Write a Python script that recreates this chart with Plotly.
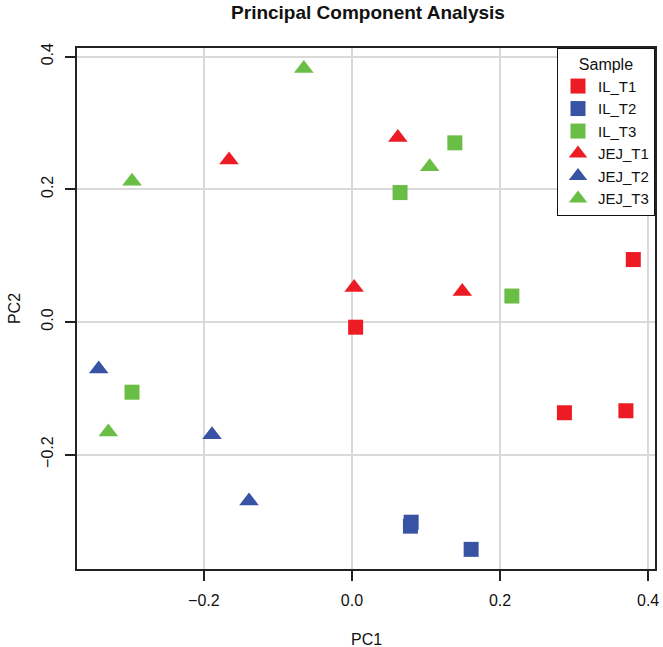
import plotly.graph_objects as go

groups = ["IL_T1", "IL_T2", "IL_T3", "JEJ_T1", "JEJ_T2", "JEJ_T3"]
colors = ["#ED1C24", "#3953A4", "#6ABD45", "#ED1C24", "#3953A4", "#6ABD45"]
symbols = ["square", "square", "square", "triangle-up", "triangle-up", "triangle-up"]

il_t1_pc1 = [0.005, 0.380, 0.287, 0.370]
il_t1_pc2 = [-0.008, 0.094, -0.137, -0.134]
il_t2_pc1 = [0.080, 0.079, 0.161]
il_t2_pc2 = [-0.302, -0.308, -0.343]
il_t3_pc1 = [0.139, 0.065, 0.216, -0.297]
il_t3_pc2 = [0.270, 0.195, 0.039, -0.106]
jej_t1_pc1 = [-0.166, 0.062, 0.003, 0.149]
jej_t1_pc2 = [0.244, 0.278, 0.052, 0.046]
jej_t2_pc1 = [-0.342, -0.189, -0.139]
jej_t2_pc2 = [-0.071, -0.170, -0.270]
jej_t3_pc1 = [-0.297, -0.065, 0.105, -0.329]
jej_t3_pc2 = [0.212, 0.382, 0.234, -0.166]

xs = [il_t1_pc1, il_t2_pc1, il_t3_pc1, jej_t1_pc1, jej_t2_pc1, jej_t3_pc1]
ys = [il_t1_pc2, il_t2_pc2, il_t3_pc2, jej_t1_pc2, jej_t2_pc2, jej_t3_pc2]

x_ticks = [-0.2, 0.0, 0.2, 0.4]
x_ticklabels = ["\u22120.2", "0.0", "0.2", "0.4"]
y_ticks = [-0.2, 0.0, 0.2, 0.4]
y_ticklabels = ["\u22120.2", "0.0", "0.2", "0.4"]

FONT = "Liberation Sans, Arial, sans-serif"

fig = go.Figure()
for g, c, s, x, y in zip(groups, colors, symbols, xs, ys):
    fig.add_trace(go.Scatter(
        x=x, y=y, mode="markers", name=g,
        marker=dict(color=c, symbol=s, size=15 if s == "square" else 17,
                    line=dict(width=0)),
    ))

axis_common = dict(
    showgrid=True, gridcolor="#D9D9D9", gridwidth=1.5,
    showline=True, linecolor="#222222", linewidth=1.5, mirror=True,
    ticks="outside", ticklen=10, tickwidth=1.5, tickcolor="#222222",
    zeroline=False, ticklabelstandoff=6,
    tickfont=dict(family=FONT, size=16, color="#111111"),
)

fig.update_layout(
    width=663, height=647,
    paper_bgcolor="white", plot_bgcolor="white",
    margin=dict(l=77, r=4, t=48, b=78),
    font=dict(family=FONT, size=16, color="#111111"),
    title=dict(text="<b>Principal Component Analysis</b>", x=0.555, xanchor="center",
               xref="container", yref="container",
               y=0.9815, yanchor="middle", font=dict(family=FONT, size=19)),
    xaxis=dict(range=[-0.3713, 0.4093], tickvals=x_ticks, ticktext=x_ticklabels,
               **axis_common),
    yaxis=dict(range=[-0.3726, 0.413], tickvals=y_ticks, ticktext=y_ticklabels,
               tickangle=-90,
               title=dict(text="PC2", standoff=14, font=dict(family=FONT, size=16)),
               **axis_common),
    legend=dict(
        x=1, xanchor="right", y=1, yanchor="top",
        bgcolor="white", bordercolor="#111111", borderwidth=1,
        title=dict(text="Sample", side="top center", font=dict(family=FONT, size=16)),
        font=dict(family=FONT, size=15),
        itemwidth=30, tracegroupgap=0,
    ),
    annotations=[dict(text="PC1", xref="paper", yref="paper", x=0.5, y=-0.136,
                      xanchor="center", yanchor="middle", showarrow=False,
                      font=dict(family=FONT, size=16, color="#111111"))],
)

fig.write_html(
    "out.html",
    config={"displayModeBar": False},
    post_script="document.body.style.margin='0';document.body.style.overflow='hidden';",
)
